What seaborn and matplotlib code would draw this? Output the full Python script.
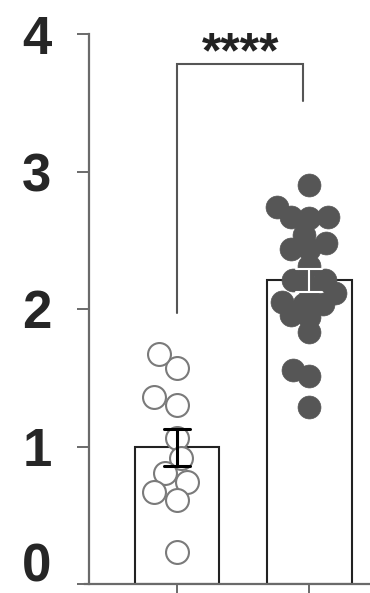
import numpy as np
import pandas as pd
import matplotlib
matplotlib.use("Agg")
import matplotlib.pyplot as plt
import seaborn as sns

# values
groups = ["A", "B"]
vals_a = [1.57, 1.67, 1.30, 1.36, 1.06, 0.92, 0.81, 0.74, 0.61, 0.67, 0.23]
vals_b = [2.90, 2.66, 2.67, 2.67, 2.74, 2.48, 2.44, 2.44, 2.54,
          2.16, 2.21, 2.31, 2.05, 2.04, 2.12, 2.21, 2.04, 1.96, 1.94,
          1.83, 1.51, 1.56, 1.29]
yticks = [0, 1, 2, 3, 4]
sig_label = "****"

df = pd.DataFrame({
    "group": ["A"] * len(vals_a) + ["B"] * len(vals_b),
    "value": vals_a + vals_b,
})

sns.set_style("ticks")
plt.rcParams["font.family"] = ["Liberation Sans", "DejaVu Sans"]

fig = plt.figure(figsize=(3.7, 5.93), dpi=100)
ax = fig.add_axes([89 / 370, 9 / 593, 281 / 370, 550 / 593])

# bars with SEM error bars
sns.barplot(data=df, x="group", y="value", order=groups, errorbar="se",
            color="white", edgecolor="#222222", linewidth=1.5, width=0.64,
            capsize=0.2, err_kws={"linewidth": 2.2, "color": "black"}, ax=ax)
for ln in ax.lines:
    ln.set_zorder(6)
    xd = np.asarray(ln.get_xdata(), dtype=float)
    if np.nanmean(xd) > 0.5:
        ln.set_color("white")
        ln.set_linewidth(1.5)

# points: swarm laid out, then drawn at the final size (group B overlaps like the original)
n_before = len(ax.collections)
sns.swarmplot(data=df[df.group == "A"], x="group", y="value", order=groups,
              color="white", edgecolor="#7a7a7a", linewidth=1.5, size=17, ax=ax, zorder=4)
sns.swarmplot(data=df[df.group == "B"], x="group", y="value", order=groups,
              color="#565656", edgecolor="#565656", linewidth=0.5, size=13, ax=ax, zorder=4)
fig.canvas.draw()
for pc in ax.collections[n_before:]:
    if "draw" in pc.__dict__:
        del pc.draw
    pc.set_sizes([16.5 ** 2])

ax.set_xlim(-0.667, 1.46)
ax.set_ylim(0, 4)
ax.set_yticks(yticks)
ax.set_yticklabels([str(t) if t != 0 else "" for t in yticks], fontsize=38, fontweight="bold")
ax.set_xticklabels([])
ax.set_xlabel("")
ax.set_ylabel("")

# the "0" sits a bit above its tick in the original
ax.annotate("0", xy=(0, 0), xycoords=("axes fraction", "data"), xytext=(-27, 12),
            textcoords="offset points", ha="right", va="center",
            fontsize=38, fontweight="bold", annotation_clip=False)

for side in ["top", "right"]:
    ax.spines[side].set_visible(False)
for side in ["left", "bottom"]:
    ax.spines[side].set_color("#6a6a6a")
    ax.spines[side].set_linewidth(1.6)
ax.spines["bottom"].set_bounds(-0.7, 1.46)
ax.tick_params(axis="y", length=9, width=1.4, color="#6a6a6a", pad=18)
ax.tick_params(axis="x", length=9, width=1.4, color="#6a6a6a")

# significance bracket
ax.plot([0, 0, 0.955, 0.955], [1.97, 3.78, 3.78, 3.51], color="#555555", lw=1.5,
        clip_on=False, solid_joinstyle="miter")
ax.text(0.48, 3.85, sig_label, ha="center", va="center", fontsize=36,
        fontweight="bold", color="#222222")

fig.savefig("out.png", dpi=100)
